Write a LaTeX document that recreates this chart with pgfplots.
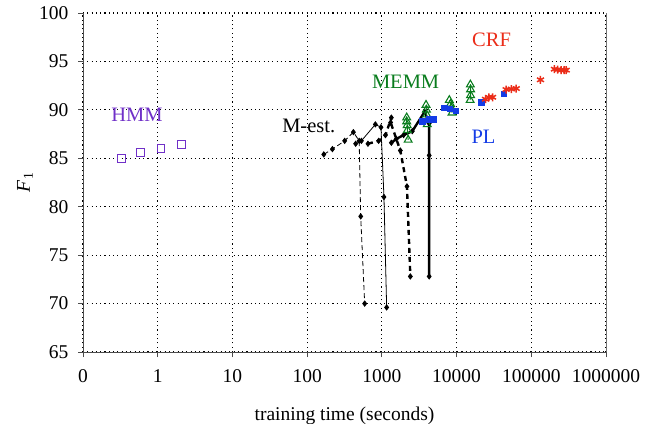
\documentclass[border=0pt]{standalone}
\usepackage{fontspec}
\setmainfont{Liberation Serif}
\usepackage{pgfplots}
\pgfplotsset{compat=1.18}
\definecolor{crfred}{RGB}{235,45,25}
\definecolor{memmgreen}{RGB}{10,125,30}
\definecolor{plblue}{RGB}{20,60,230}
\definecolor{hmmpurple}{RGB}{112,48,200}
\begin{document}
\fontsize{19.5}{23}\selectfont
\begin{tikzpicture}
\begin{axis}[
  scale only axis, width=523pt, height=339pt,
  xmode=log, xmin=0.1, xmax=1e6, ymin=65, ymax=100,
  axis x line*=bottom, axis y line*=left,
  axis line style={black!70, line width=0.9pt},
  xtick={0.1,1,10,100,1000,10000,100000,1000000},
  xticklabels={0,1,10,100,1000,10000,100000,1000000},
  ytick={65,70,...,100},
  xminorticks=false,
  tick align=outside, major tick length=5pt,
  tick style={black!70, line width=0.8pt},
  /pgf/number format/assume math mode=true,
  grid=major,
  major grid style={black, line width=1.1pt, dash pattern=on 1.1pt off 3.2pt},
  xticklabel style={yshift=-6pt},
  yticklabel style={xshift=-3pt},
  xlabel={training time (seconds)},
  xlabel style={at={(rel axis cs:0.5,0)}, anchor=base, yshift=-68pt},
  clip=false,
]
% HMM
\addplot[only marks, hmmpurple, mark=square, mark size=3.8pt, line width=0.9pt]
  coordinates {(0.33,85.0) (0.59,85.6) (1.11,86.0) (2.06,86.4)};
% M-est., four settings
\addplot[black, line width=0.8pt, dash pattern=on 5pt off 3pt, mark=diamond*, mark size=2.6pt, mark options={solid}]
  coordinates {(167,85.4) (218,85.95) (318,86.8) (416,87.7) (497,86.8) (521,79.0) (589,70.0)};
\addplot[black, line width=0.8pt, mark=diamond*, mark size=2.6pt]
  coordinates {(446,86.5) (532,86.8) (819,88.5) (973,88.2) (1067,81.0) (1159,69.6)};
\addplot[black, line width=2.4pt, dash pattern=on 5pt off 4pt, mark=diamond*, mark size=2.6pt, mark options={solid, line width=0.8pt}]
  coordinates {(652,86.5) (906,86.8) (1120,87.4) (1340,89.2) (1310,88.7) (1767,85.8) (2167,82.1) (2405,72.8)};
\addplot[black, line width=2.4pt, mark=diamond*, mark size=2.6pt, mark options={line width=0.8pt}]
  coordinates {(1340,86.6) (1563,87.0) (1955,87.4) (2557,87.8) (3735,89.8) (4300,88.6) (4300,85.3) (4300,72.8)};
% MEMM
\addplot[memmgreen, line width=0.9pt, mark=triangle, mark size=4.5pt, mark options={line width=1.1pt}]
  coordinates {(2150,89.2) (2150,88.8) (2180,88.4) (2200,87.9) (2250,86.9)};
\addplot[memmgreen, line width=0.9pt, mark=triangle, mark size=4.5pt, mark options={line width=1.1pt}]
  coordinates {(3900,90.5) (3950,90.0) (3980,89.5) (4050,88.5)};
\addplot[memmgreen, line width=0.9pt, mark=triangle, mark size=4.5pt, mark options={line width=1.1pt}]
  coordinates {(8000,91.0) (8300,90.6) (8500,90.2) (8700,89.7)};
\addplot[memmgreen, line width=0.9pt, mark=triangle, mark size=4.5pt, mark options={line width=1.1pt}]
  coordinates {(15300,92.6) (15400,92.1) (15400,91.5) (15200,91.0)};
% PL
\addplot[plblue, line width=0.9pt, mark=square*, mark size=2.6pt]
  coordinates {(3500,88.8) (4225,89.0) (4930,89.0)};
\addplot[plblue, line width=0.9pt, mark=square*, mark size=2.6pt]
  coordinates {(6900,90.2) (8200,90.1) (9700,89.9)};
\addplot[plblue, only marks, mark=square*, mark size=2.6pt]
  coordinates {(21400,90.8) (42900,91.7)};
% CRF
\addplot[crfred, line width=0.9pt, mark=asterisk, mark size=4pt, mark options={line width=1.5pt}]
  coordinates {(24400,91.1) (27000,91.3) (30300,91.3)};
\addplot[crfred, line width=0.9pt, mark=asterisk, mark size=4pt, mark options={line width=1.5pt}]
  coordinates {(46100,92.1) (54000,92.15) (62900,92.2)};
\addplot[crfred, only marks, mark=asterisk, mark size=4pt, mark options={line width=1.5pt}]
  coordinates {(132800,93.1)};
\addplot[crfred, line width=2pt, mark=asterisk, mark size=4pt, mark options={line width=1.5pt}]
  coordinates {(204000,94.2) (225000,94.15) (250000,94.1) (275000,94.1) (293000,94.1)};
% labels
\node[font=\fontsize{20.5}{24}\selectfont, hmmpurple] at (axis cs:0.527,89.5) {HMM};
\node[font=\fontsize{20.5}{24}\selectfont, black] at (axis cs:105,88.35) {M-est.};
\node[font=\fontsize{20.5}{24}\selectfont, memmgreen] at (axis cs:2080,92.9) {MEMM};
\node[font=\fontsize{20.5}{24}\selectfont, crfred] at (axis cs:29400,97.2) {CRF};
\node[font=\fontsize{20.5}{24}\selectfont, plblue] at (axis cs:22950,87.2) {PL};
\node[rotate=90] at ([xshift=-58pt]rel axis cs:0,0.5) {{\itshape F}\kern1pt\textsubscript{\upshape 1}};
\draw[black!55, line width=0.9pt] (rel axis cs:1,0) -- (rel axis cs:1,1);
\end{axis}
\pgfresetboundingbox
\path (-83pt,-71pt) rectangle (569pt,352pt);
\end{tikzpicture}
\end{document}
